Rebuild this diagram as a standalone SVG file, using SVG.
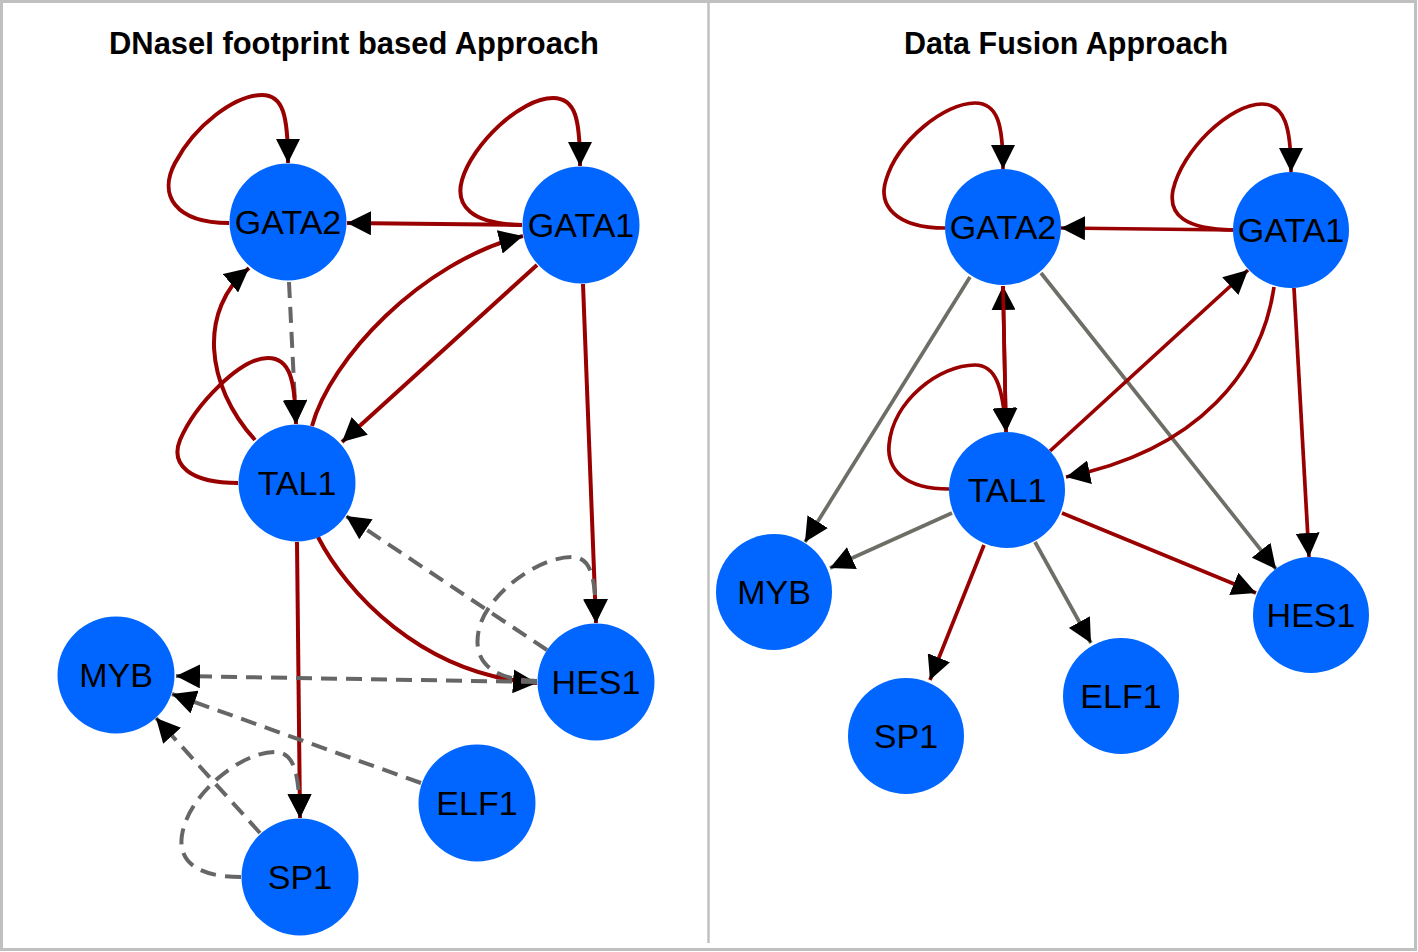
<svg xmlns="http://www.w3.org/2000/svg" width="1418" height="952" viewBox="0 0 1418 952">
<style>
.red{fill:none;stroke:#990000;stroke-width:4;marker-end:url(#arr)}
.redr{fill:none;stroke:#990000;stroke-width:3.7;marker-end:url(#arr)}
.dash{fill:none;stroke:#666666;stroke-width:4;stroke-dasharray:16 9;marker-end:url(#arr)}
.grey{fill:none;stroke:#6e6e66;stroke-width:3.7;marker-end:url(#arr)}
.node circle{fill:#0066ff}
.node text{font-family:"Liberation Sans",Arial,sans-serif;font-size:34px;fill:#000;text-anchor:middle}
.title{font-family:"Liberation Sans",Arial,sans-serif;font-size:32px;font-weight:bold;fill:#000;text-anchor:middle}
</style>
<defs>
<marker id="arr" viewBox="0 0 24 24" refX="24" refY="12" markerWidth="24" markerHeight="24" markerUnits="userSpaceOnUse" orient="auto"><path d="M0,0 L24,12 L0,24 z" fill="#000"/></marker>
</defs>
<rect x="0" y="0" width="1418" height="952" fill="#fff"/>
<rect x="1.5" y="1.5" width="1414" height="948" fill="none" stroke="#c0c0c0" stroke-width="3"/>
<line x1="708.5" y1="3" x2="708.5" y2="943" stroke="#c0c0c0" stroke-width="2.5"/>
<text class="title" x="354" y="54" textLength="490" lengthAdjust="spacingAndGlyphs">DNaseI footprint based Approach</text>
<text class="title" x="1066" y="54" textLength="324" lengthAdjust="spacingAndGlyphs">Data Fusion Approach</text>
<g id="connectors">
<path class="red" d="M229,223 C175,223 158,195 175,163 C195,125 235,95 262,95 C283,95 288,115 288,163"/>
<path class="red" d="M522,225 C470,224 455,205 462,180 C472,145 520,98 553,98 C576,98 580,120 580,166"/>
<path class="red" d="M522,225 L347,223"/>
<path class="red" d="M312,426 C330,360 420,262 523,236"/>
<path class="red" d="M255,440 C205,385 198,310 249,268"/>
<path class="dash" d="M289,282 L296,424"/>
<path class="red" d="M238,483 C190,483 170,465 180,440 C195,405 240,358 268,358 C290,358 295,380 296,424"/>
<path class="red" d="M537,265 L342,442"/>
<path class="red" d="M583,284 L596,623"/>
<path class="red" d="M297,542 L300,818"/>
<path class="red" d="M318,537 C345,590 420,675 537,683"/>
<path class="dash" d="M547,650 L346,516"/>
<path class="dash" d="M537,681 C490,680 470,660 480,625 C492,590 540,557 572,557 C592,557 596,580 596,623"/>
<path class="dash" d="M537,682 L176,676"/>
<path class="dash" d="M421,783 L172,694"/>
<path class="dash" d="M260,833 L156,718"/>
<path class="dash" d="M241,877 C195,877 178,860 182,835 C188,795 240,752 275,752 C295,752 299,775 300,818"/>
<path class="redr" d="M945,228 C895,228 878,205 886,180 C898,140 945,103 975,103 C998,103 1003,125 1003,169"/>
<path class="redr" d="M1233,230 C1185,229 1168,215 1173,190 C1182,150 1230,104 1262,104 C1285,104 1291,128 1291,172"/>
<path class="redr" d="M1233,230 L1061,228"/>
<path class="redr" d="M1006,432 L1003,286"/>
<path class="redr" d="M1003,286 L1006,432"/>
<path class="redr" d="M949,489 C905,489 887,470 889,445 C893,400 940,365 975,365 C995,365 1003,385 1006,432"/>
<path class="grey" d="M970,277 L805,542"/>
<path class="grey" d="M1041,273 L1276,569"/>
<path class="redr" d="M1050,451 L1248,270"/>
<path class="redr" d="M1274,287 C1262,370 1200,450 1066,477"/>
<path class="redr" d="M1294,288 L1309,557"/>
<path class="grey" d="M952,513 L830,568"/>
<path class="redr" d="M984,545 L930,680"/>
<path class="grey" d="M1035,542 L1091,643"/>
<path class="redr" d="M1062,513 L1256,593"/>
</g>
<g id="n-l-gata2" class="node"><circle cx="288" cy="222" r="58.5"/><text x="288" y="234">GATA2</text></g>
<g id="n-l-gata1" class="node"><circle cx="581" cy="225" r="58.5"/><text x="581" y="237">GATA1</text></g>
<g id="n-l-tal1" class="node"><circle cx="297" cy="483" r="58.5"/><text x="297" y="495">TAL1</text></g>
<g id="n-l-myb" class="node"><circle cx="116" cy="675" r="58.5"/><text x="116" y="687">MYB</text></g>
<g id="n-l-hes1" class="node"><circle cx="596" cy="682" r="58.5"/><text x="596" y="694">HES1</text></g>
<g id="n-l-elf1" class="node"><circle cx="477" cy="803" r="58.5"/><text x="477" y="815">ELF1</text></g>
<g id="n-l-sp1" class="node"><circle cx="300" cy="877" r="58.5"/><text x="300" y="889">SP1</text></g>
<g id="n-r-gata2" class="node"><circle cx="1003" cy="227" r="58"/><text x="1003" y="239">GATA2</text></g>
<g id="n-r-gata1" class="node"><circle cx="1291" cy="230" r="58"/><text x="1291" y="242">GATA1</text></g>
<g id="n-r-tal1" class="node"><circle cx="1007" cy="490" r="58"/><text x="1007" y="502">TAL1</text></g>
<g id="n-r-myb" class="node"><circle cx="774" cy="592" r="58"/><text x="774" y="604">MYB</text></g>
<g id="n-r-sp1" class="node"><circle cx="906" cy="736" r="58"/><text x="906" y="748">SP1</text></g>
<g id="n-r-elf1" class="node"><circle cx="1121" cy="696" r="58"/><text x="1121" y="708">ELF1</text></g>
<g id="n-r-hes1" class="node"><circle cx="1311" cy="615" r="58"/><text x="1311" y="627">HES1</text></g>
</svg>
